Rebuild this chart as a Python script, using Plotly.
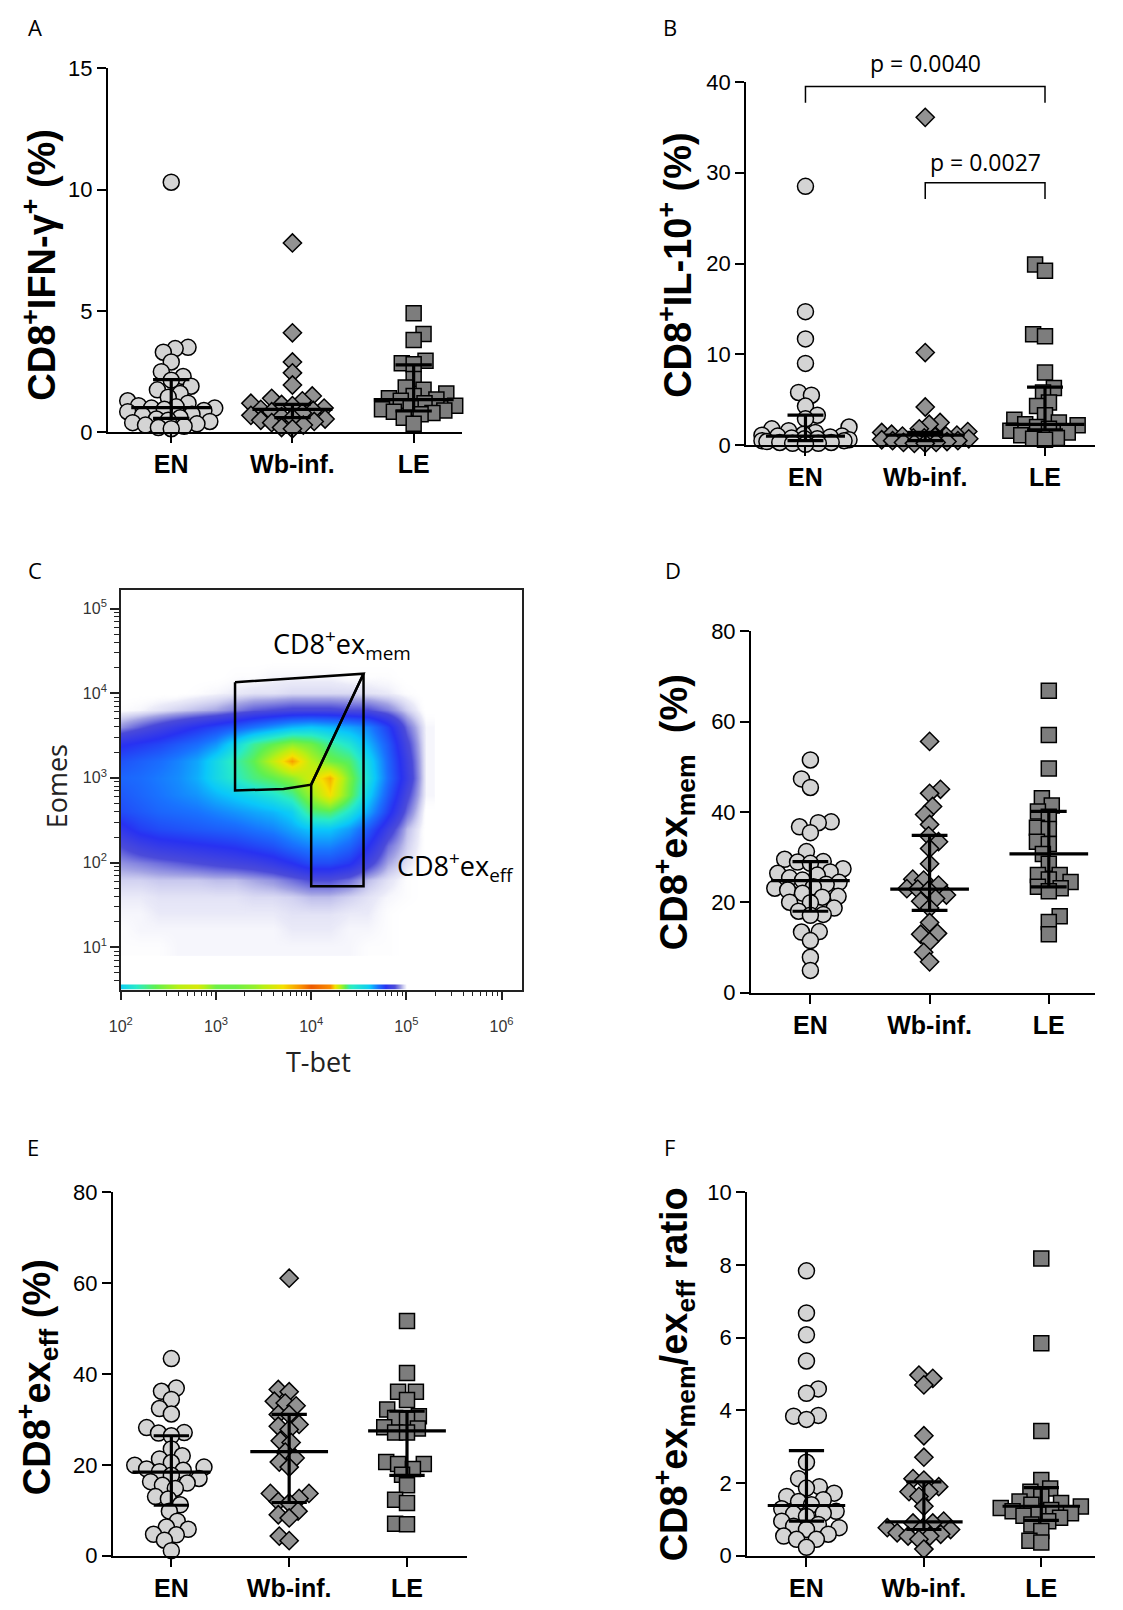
import math
import numpy as np
import plotly.graph_objects as go

W, H = 1123, 1610

groups = ["EN", "Wb-inf.", "LE"]

# ---- A: CD8+ IFN-gamma+ (%)
ifn_en = [10.3, 3.5, 3.45, 3.3, 2.9, 2.5, 2.3, 2.15, 1.9, 1.75, 1.6, 1.45, 1.3, 1.2, 1.1, 1.05, 1.0,
          1.0, 0.95, 0.9, 0.85, 0.75, 0.7, 0.6, 0.55, 0.5, 0.45, 0.4, 0.35, 0.3, 0.25, 0.2, 0.15]
ifn_wb = [7.8, 4.1, 2.9, 2.45, 1.95, 1.5, 1.4, 1.3, 1.2, 1.15, 1.1, 1.0, 0.95, 0.9, 0.85, 0.8, 0.7,
          0.65, 0.6, 0.55, 0.5, 0.45, 0.4, 0.3, 0.2, 0.15]
ifn_le = [4.9, 4.05, 3.8, 2.95, 2.85, 2.8, 2.2, 1.85, 1.75, 1.6, 1.5, 1.4, 1.35, 1.3, 1.2, 1.1, 1.0,
          0.95, 0.9, 0.85, 0.8, 0.75, 0.6, 0.35]
ifn_median = [1.02, 0.95, 1.35]
ifn_q1 = [0.58, 0.61, 0.88]
ifn_q3 = [2.17, 1.15, 2.78]

# ---- B: CD8+ IL-10+ (%)
il10_en = [28.5, 14.7, 11.7, 9.0, 5.8, 5.5, 4.3, 3.3, 2.9, 2.0, 1.8, 1.6, 1.4, 1.2, 1.1, 1.0, 1.0,
           0.9, 0.8, 0.7, 0.7, 0.6, 0.5, 0.5, 0.4, 0.3, 0.3, 0.2, 0.2, 0.1]
il10_wb = [36.1, 10.2, 4.2, 2.5, 2.3, 1.8, 1.5, 1.4, 1.2, 1.1, 1.0, 1.0, 0.9, 0.8, 0.8, 0.7, 0.6,
           0.5, 0.5, 0.4, 0.3, 0.3, 0.2, 0.2]
il10_le = [19.9, 19.2, 12.2, 12.0, 8.0, 6.3, 5.8, 4.7, 4.3, 3.3, 2.8, 2.5, 2.3, 2.2, 2.0, 1.8, 1.6,
           1.4, 1.1, 0.8, 0.7, 0.6]
il10_median = [1.0, 1.1, 2.3]
il10_q1 = [0.5, 0.5, 1.7]
il10_q3 = [3.3, 1.4, 6.4]
pval_text = ["p = 0.0040", "p = 0.0027"]
pval_from = [0, 1]
pval_to = [2, 2]
pval_bar = [39.5, 28.9]
pval_leg = [37.7, 27.1]
pval_label_y = [42.1, 31.2]

# ---- D: CD8+ ex_mem (%)
mem_en = [51.5, 47.3, 45.4, 37.8, 37.6, 36.7, 35.4, 31.2, 29.5, 29.0, 28.9, 28.6, 27.4, 26.7, 26.4,
          26.0, 25.4, 24.9, 24.4, 24.0, 23.4, 23.1, 22.7, 22.0, 21.3, 21.1, 20.0, 19.9, 18.7, 18.0,
          17.3, 17.1, 13.5, 13.4, 11.5, 7.8, 4.9]
mem_wb = [55.6, 45.0, 44.1, 41.2, 39.4, 37.2, 34.7, 33.4, 31.9, 28.5, 25.1, 24.9, 23.8, 23.0, 22.9,
          22.7, 21.6, 20.8, 20.2, 18.7, 15.5, 13.1, 12.9, 11.3, 8.9, 6.8]
mem_le = [66.8, 57.0, 49.6, 43.0, 41.4, 40.1, 38.9, 36.5, 36.2, 33.4, 32.9, 30.7, 28.5, 26.0, 26.0,
          25.0, 24.5, 23.4, 23.1, 22.4, 16.9, 15.6, 12.9]
mem_median = [24.8, 22.9, 30.7]
mem_q1 = [18.0, 18.2, 23.4]
mem_q3 = [29.0, 34.8, 40.1]

# ---- E: CD8+ ex_eff (%)
eff_en = [43.4, 36.9, 36.2, 34.4, 32.4, 31.2, 28.2, 27.1, 27.0, 26.4, 23.5, 22.0, 21.3, 20.5, 19.9,
          19.5, 19.1, 18.8, 18.5, 17.7, 17.0, 16.3, 16.0, 15.5, 14.8, 13.0, 12.5, 11.2, 9.8, 7.6,
          6.3, 5.8, 4.7, 4.6, 3.4, 1.1]
eff_wb = [61.1, 36.6, 36.1, 34.0, 33.6, 33.0, 31.1, 31.1, 28.9, 28.5, 27.8, 25.3, 24.9, 22.8, 21.5,
          20.6, 19.5, 13.7, 13.7, 12.6, 11.9, 11.6, 9.8, 9.0, 8.3, 4.3, 3.3]
eff_le = [51.7, 40.2, 36.1, 36.1, 34.3, 32.2, 30.7, 30.3, 30.0, 28.3, 28.0, 27.1, 27.1, 20.6, 20.2,
          20.2, 19.1, 17.8, 15.5, 12.3, 11.6, 7.0, 6.9]
eff_median = [18.4, 22.9, 27.5]
eff_q1 = [11.1, 11.7, 17.7]
eff_q3 = [26.4, 31.1, 31.8]

# ---- F: ex_mem / ex_eff ratio
ratio_en = [7.84, 6.68, 6.08, 5.36, 4.59, 4.47, 3.86, 3.84, 3.75, 2.57, 2.12, 1.90, 1.86, 1.72, 1.63,
            1.54, 1.49, 1.40, 1.29, 1.22, 1.17, 1.15, 1.08, 0.95, 0.86, 0.81, 0.77, 0.72, 0.59, 0.54,
            0.45, 0.45, 0.23]
ratio_wb = [4.97, 4.88, 4.70, 3.30, 2.71, 2.12, 2.08, 1.90, 1.76, 1.76, 1.63, 1.36, 0.95, 0.90, 0.90,
            0.77, 0.77, 0.72, 0.63, 0.59, 0.54, 0.54, 0.45, 0.18]
ratio_le = [8.18, 5.85, 3.43, 2.08, 1.85, 1.76, 1.63, 1.49, 1.45, 1.40, 1.35, 1.31, 1.26, 1.22, 1.17,
            1.13, 1.10, 1.04, 0.95, 0.86, 0.68, 0.41, 0.36]
ratio_median = [1.38, 0.93, 1.36]
ratio_q1 = [0.95, 0.72, 0.97]
ratio_q3 = [2.89, 2.03, 1.87]

# ---- C: flow plot, density (log10 T-bet x log10 Eomes grid, 0-10 scale)
tbet_log = [2.0, 2.2, 2.4, 2.6, 2.8, 3.0, 3.2, 3.4, 3.6, 3.8, 4.0, 4.2, 4.4, 4.6, 4.8, 5.0, 5.2]
eomes_log = [1.0, 1.2, 1.4, 1.6, 1.8, 2.0, 2.2, 2.4, 2.6, 2.8, 3.0, 3.2, 3.4, 3.6, 3.8, 4.0, 4.2, 4.4]
density = [
    [0.05, 0.05, 0.05, 0.1, 0.1, 0.1, 0.1, 0.1, 0.1, 0.1, 0.1, 0.1, 0.1, 0.05, 0.05, 0, 0],
    [0.05, 0.1, 0.1, 0.1, 0.1, 0.1, 0.1, 0.1, 0.1, 0.15, 0.15, 0.15, 0.1, 0.1, 0.05, 0, 0],
    [0.1, 0.1, 0.15, 0.15, 0.15, 0.15, 0.15, 0.15, 0.15, 0.2, 0.2, 0.2, 0.15, 0.15, 0.05, 0, 0],
    [0.15, 0.15, 0.2, 0.2, 0.2, 0.2, 0.2, 0.25, 0.25, 0.3, 0.4, 0.4, 0.3, 0.2, 0.1, 0.05, 0],
    [0.3, 0.3, 0.35, 0.35, 0.35, 0.4, 0.4, 0.5, 0.6, 0.8, 1.0, 1.0, 0.8, 0.4, 0.2, 0.05, 0],
    [0.6, 0.7, 0.8, 0.9, 1.0, 1.1, 1.2, 1.3, 1.5, 1.8, 2.2, 2.2, 1.9, 1.2, 0.5, 0.2, 0],
    [1.0, 1.3, 1.5, 1.6, 1.7, 1.8, 1.9, 2.1, 2.3, 2.7, 3.0, 3.0, 2.6, 1.8, 0.8, 0.3, 0],
    [1.6, 2.0, 2.2, 2.3, 2.4, 2.5, 2.6, 2.8, 3.0, 3.4, 3.8, 3.8, 3.3, 2.4, 1.3, 0.4, 0],
    [2.2, 2.4, 2.6, 2.7, 2.8, 3.0, 3.2, 3.4, 3.6, 4.0, 5.4, 5.6, 4.6, 3.4, 2.0, 0.8, 0],
    [2.4, 2.6, 2.8, 3.0, 3.2, 3.6, 3.9, 4.2, 4.6, 5.2, 6.6, 8.0, 6.0, 4.0, 2.4, 1.1, 0.1],
    [2.6, 2.7, 2.9, 3.1, 3.5, 4.2, 4.8, 5.4, 5.8, 6.4, 7.4, 8.6, 6.2, 4.4, 2.7, 1.4, 0.1],
    [2.3, 2.5, 2.7, 3.0, 3.4, 4.2, 5.0, 5.8, 7.2, 8.8, 7.0, 6.0, 5.6, 4.2, 2.6, 1.3, 0.1],
    [1.7, 1.9, 2.1, 2.4, 2.7, 3.2, 4.2, 5.2, 5.8, 6.4, 6.0, 5.2, 4.6, 3.6, 2.4, 1.1, 0.1],
    [0.6, 0.9, 1.2, 1.5, 1.8, 2.1, 2.4, 2.8, 3.2, 3.6, 3.8, 3.6, 3.4, 3.0, 2.0, 0.8, 0.1],
    [0.05, 0.1, 0.2, 0.3, 0.4, 0.5, 0.7, 0.9, 1.0, 1.1, 1.1, 1.1, 1.0, 1.0, 0.7, 0.3, 0],
    [0, 0, 0, 0, 0.05, 0.1, 0.15, 0.2, 0.2, 0.25, 0.25, 0.25, 0.25, 0.2, 0.15, 0.05, 0],
    [0, 0, 0, 0, 0, 0, 0.05, 0.05, 0.1, 0.1, 0.1, 0.1, 0.05, 0.05, 0.05, 0, 0],
    [0, 0, 0, 0, 0, 0, 0, 0, 0, 0, 0, 0, 0, 0, 0, 0, 0],
]
# events piled on the Eomes axis floor
floor_density = [4, 5, 6, 7, 7.5, 6, 6, 6.5, 7.5, 8.5, 9.5, 9, 5, 4, 1.5, 0, 0]
floor_eomes_log = [0.515, 0.545]

mem_gate_tbet = [1585, 35480, 10000, 5130, 1585, 1585]
mem_gate_eomes = [13490, 16980, 832, 741, 708, 13490]
eff_gate_tbet = [10000, 35480, 35480, 10000, 10000]
eff_gate_eomes = [832, 16980, 52.5, 52.5, 832]

flow_colors = [
    [0.0, "rgba(255,255,255,0)"], [0.015, "rgba(225,225,245,0.7)"], [0.05, "rgb(165,165,228)"],
    [0.1, "rgb(75,75,218)"], [0.18, "rgb(40,50,242)"], [0.28, "rgb(25,115,255)"],
    [0.38, "rgb(10,200,250)"], [0.48, "rgb(40,235,200)"], [0.58, "rgb(95,240,80)"],
    [0.7, "rgb(185,240,20)"], [0.8, "rgb(245,225,0)"], [0.9, "rgb(250,140,0)"],
    [1.0, "rgb(225,40,0)"],
]

SANS = "Liberation Sans, Arial, sans-serif"
SOFT = "Open Sans, sans-serif"


def fx(p):
    return p / W


def fy(p):
    return 1 - p / H


def swarm(vals, ppu_y, diam, cap=44):
    # simple deterministic beeswarm, offsets in pixels
    vals = np.asarray(vals, float)
    xs = np.zeros(len(vals))
    placed = []
    cand = np.arange(-cap, cap + 1, 1.0)
    for k, i in enumerate(np.argsort(vals)):
        yp = vals[i] * ppu_y
        sgn = 1 if k % 2 else -1
        order = sorted(cand, key=lambda c: (abs(c), sgn * c))
        best, best_pen = 0.0, None
        for c in order:
            pen = 0.0
            for (px, py) in placed:
                d = math.hypot(c - px, yp - py)
                if d < diam:
                    pen += diam - d
            if pen == 0:
                best, best_pen = c, 0
                break
            if best_pen is None or pen < best_pen - 1e-9:
                best, best_pen = c, pen
        xs[i] = best
        placed.append((best, yp))
    return xs


panels = [
    dict(n=1, data=[ifn_en, ifn_wb, ifn_le], med=ifn_median, q1=ifn_q1, q3=ifn_q3,
         box=(97, 455, 57, 427), xr=(-0.522, 2.40), ymax=15, dt=5,
         title="<b>CD8<sup>+</sup>IFN-γ<sup>+</sup> (%)</b>", tpos=(27, 257)),
    dict(n=2, data=[il10_en, il10_wb, il10_le], med=il10_median, q1=il10_q1, q3=il10_q3,
         box=(742, 1095, 71, 440), xr=(-0.496, 2.42), ymax=40, dt=10,
         title="<b>CD8<sup>+</sup>IL-10<sup>+</sup> (%)</b>", tpos=(670, 257)),
    dict(n=4, data=[mem_en, mem_wb, mem_le], med=mem_median, q1=mem_q1, q3=mem_q3,
         box=(747, 1095, 629, 996), xr=(-0.498, 2.39), ymax=80, dt=20,
         title="<b>CD8<sup>+</sup>ex<sub>mem</sub> &nbsp;(%)</b>", tpos=(670, 813)),
    dict(n=5, data=[eff_en, eff_wb, eff_le], med=eff_median, q1=eff_q1, q3=eff_q3,
         box=(102, 460, 1199, 1568), xr=(-0.496, 2.51), ymax=80, dt=20,
         title="<b>CD8<sup>+</sup>ex<sub>eff</sub> (%)</b>", tpos=(26, 1387)),
    dict(n=6, data=[ratio_en, ratio_wb, ratio_le], med=ratio_median, q1=ratio_q1, q3=ratio_q3,
         box=(743, 1095, 1199, 1568), xr=(-0.506, 2.46), ymax=10, dt=2,
         title="<b>CD8<sup>+</sup>ex<sub>mem</sub>/ex<sub>eff</sub> ratio</b>", tpos=(669, 1384)),
]

symbols = ["circle", "diamond", "square"]
fills = ["#d4d4d4", "#929292", "#7d7d7d"]
sizes = [16, 14, 15]

fig = go.Figure()
layout = dict(width=W, height=H, margin=dict(l=0, r=0, t=0, b=0),
              paper_bgcolor="white", plot_bgcolor="white", showlegend=False)
annotations = []

for p in panels:
    n = p["n"]
    x0, x1, yt, yb = p["box"]
    ppu_x = (x1 - x0) / (p["xr"][1] - p["xr"][0])
    ppu_y = (yb - yt) / p["ymax"]
    xa, ya = f"x{n}", f"y{n}"
    for g, vals in enumerate(p["data"]):
        offs = swarm(vals, ppu_y, 0.78 * sizes[g]) / ppu_x
        fig.add_trace(go.Scatter(
            x=g + offs, y=vals, mode="markers", xaxis=xa, yaxis=ya, cliponaxis=False,
            marker=dict(symbol=symbols[g], size=sizes[g], color=fills[g],
                        line=dict(color="black", width=1.5))))
    lx, ly = [], []
    for g in range(3):
        m, a, b = p["med"][g], p["q1"][g], p["q3"][g]
        lx += [g - 0.33, g + 0.33, None, g - 0.15, g + 0.15, None, g - 0.15, g + 0.15, None, g, g, None]
        ly += [m, m, None, a, a, None, b, b, None, a, b, None]
    fig.add_trace(go.Scatter(x=lx, y=ly, mode="lines", xaxis=xa, yaxis=ya,
                             line=dict(color="black", width=3.2)))
    layout[f"xaxis{n}"] = dict(
        domain=[fx(x0), fx(x1)], range=list(p["xr"]), anchor=ya,
        tickvals=[0, 1, 2], ticktext=groups, ticks="outside", ticklen=9, tickwidth=2,
        tickcolor="black", showline=True, linewidth=2, linecolor="black",
        showgrid=False, zeroline=False,
        tickfont=dict(family=SANS, size=25, color="black", weight="bold"))
    layout[f"yaxis{n}"] = dict(
        domain=[fy(yb), fy(yt)], range=[0, p["ymax"]], anchor=xa,
        tickvals=list(range(0, p["ymax"] + 1, p["dt"])), ticks="outside", ticklen=9,
        tickwidth=2, tickcolor="black", showline=True, linewidth=2, linecolor="black",
        showgrid=False, zeroline=False,
        tickfont=dict(family=SANS, size=22, color="black"))
    annotations.append(dict(
        text=p["title"], xref="paper", yref="paper", x=fx(p["tpos"][0]), y=fy(p["tpos"][1]),
        xanchor="center", yanchor="middle", textangle=-90, showarrow=False,
        font=dict(family=SANS, size=38, color="black")))

# p-value brackets on panel B
for i in range(2):
    a, b = pval_from[i], pval_to[i]
    fig.add_trace(go.Scatter(
        x=[a, a, b, b], y=[pval_leg[i], pval_bar[i], pval_bar[i], pval_leg[i]],
        mode="lines", xaxis="x2", yaxis="y2", line=dict(color="black", width=1.5)))
    annotations.append(dict(
        text=pval_text[i], xref="x2", yref="y2 domain", x=(a + b) / 2, y=pval_label_y[i] / 40,
        showarrow=False, xanchor="center", yanchor="middle",
        font=dict(family=SOFT, size=23, color="black")))

# ---- panel C
cx0, cx1, cyt, cyb = 110, 516, 587, 993

fig.add_trace(go.Heatmap(
    x=10 ** np.array(tbet_log), y=10 ** np.array(eomes_log), z=density, zmin=0, zmax=10,
    colorscale=flow_colors, zsmooth="best", showscale=False, xaxis="x3", yaxis="y3",
    hoverinfo="skip"))
fig.add_trace(go.Heatmap(
    x=10 ** np.array(tbet_log), y=10 ** np.array(floor_eomes_log),
    z=[floor_density, floor_density], zmin=0, zmax=10, colorscale=flow_colors,
    zsmooth="best", showscale=False, xaxis="x3", yaxis="y3", hoverinfo="skip"))
for gx, gy in [(mem_gate_tbet, mem_gate_eomes), (eff_gate_tbet, eff_gate_eomes)]:
    fig.add_trace(go.Scatter(x=gx, y=gy, mode="lines", xaxis="x3", yaxis="y3",
                             line=dict(color="black", width=2.5)))

log_ticks = dict(ticks="outside", ticklen=9, tickwidth=2, tickcolor="#222",
                 showline=True, linewidth=1.5, linecolor="#222", mirror=True,
                 showgrid=False, zeroline=False,
                 tickfont=dict(family=SANS, size=16, color="#333"),
                 minor=dict(ticks="outside", ticklen=5, tickwidth=1, tickcolor="#222",
                            dtick="D1", showgrid=False))
layout["xaxis3"] = dict(
    type="log", domain=[fx(cx0), fx(cx1)], range=[2.0, 6.22], anchor="y3",
    tickvals=[1e2, 1e3, 1e4, 1e5, 1e6], ticklabelstandoff=12,
    ticktext=[f"10<sup>{k}</sup>" for k in range(2, 7)], **log_ticks)
layout["yaxis3"] = dict(
    type="log", domain=[fy(cyb), fy(cyt)], range=[0.5, 5.22], anchor="x3",
    tickvals=[1e1, 1e2, 1e3, 1e4, 1e5],
    ticktext=[f"10<sup>{k}</sup>" for k in range(1, 6)], **log_ticks)

annotations += [
    dict(text="CD8<sup>+</sup>ex<sub>mem</sub>", xref="x3", yref="y3", x=4.32, y=4.57,
         showarrow=False, xanchor="center", yanchor="middle",
         font=dict(family=SOFT, size=27, color="black")),
    dict(text="CD8<sup>+</sup>ex<sub>eff</sub>", xref="x3", yref="y3", x=4.88, y=1.95,
         showarrow=False, xanchor="left", yanchor="middle",
         font=dict(family=SOFT, size=27, color="black")),
    dict(text="Eomes", xref="paper", yref="paper", x=fx(45), y=fy(787), textangle=-90,
         showarrow=False, xanchor="center", yanchor="middle",
         font=dict(family=SOFT, size=27, color="#222")),
    dict(text="T-bet", xref="paper", yref="paper", x=fx(310), y=fy(1066),
         showarrow=False, xanchor="center", yanchor="middle",
         font=dict(family=SOFT, size=27, color="#222")),
]

for letter, (lx_, ly_) in zip("ABCDEF", [(23, 15), (665, 15), (23, 567), (668, 567),
                                          (21, 1153), (665, 1153)]):
    annotations.append(dict(text=letter, xref="paper", yref="paper", x=fx(lx_), y=fy(ly_),
                            showarrow=False, xanchor="center", yanchor="middle",
                            font=dict(family=SOFT, size=22, color="black")))

layout["annotations"] = annotations
fig.update_layout(**layout)
fig.write_html("out.html", config={"displayModeBar": False},
               post_script="document.body.style.margin='0';")
